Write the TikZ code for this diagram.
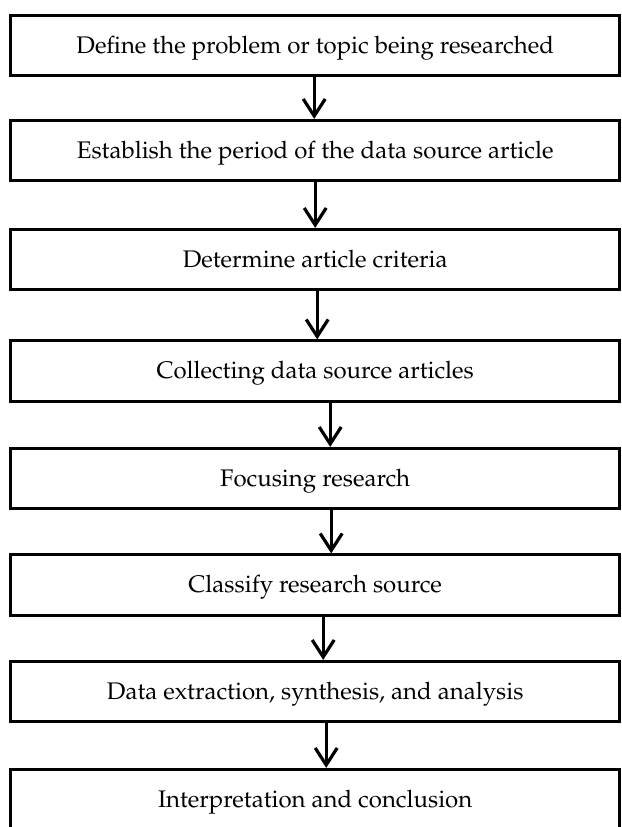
\documentclass[tikz,border=0pt]{standalone}
\usepackage[T1]{fontenc}
\usepackage{mathpazo}
\usetikzlibrary{arrows.meta}
\begin{document}
\begin{tikzpicture}[x=1pt,y=-1pt,
  stepbox/.style={draw, line width=2.8pt, minimum width=609pt, minimum height=60.4pt,
    inner sep=0pt, text height=15pt, text depth=0pt, font=\fontsize{24}{28}\selectfont},
  arr/.style={line width=3.2pt, -{Straight Barb[length=17pt,width=22pt]}}]
\useasboundingbox (0,0) rectangle (621,827);
\fill[white] (0,0) rectangle (621,827);
\clip (0,0) rectangle (621,827);
\node[stepbox] (b1) at (315.2,45.5) {Define the problem or topic being researched};
\node[stepbox] (b2) at (315.2,150.5) {Establish the period of the data source article};
\node[stepbox] (b3) at (315.2,259.5) {Determine article criteria};
\node[stepbox] (b4) at (315.2,371) {Collecting data source articles};
\node[stepbox] (b5) at (315.2,478.5) {Focusing research};
\node[stepbox] (b6) at (315.2,585) {Classify research source};
\node[stepbox] (b7) at (315.2,691.5) {Data extraction, synthesis, and analysis};
\node[stepbox] (b8) at (315.2,799.5) {Interpretation and conclusion};
\draw[arr] ([xshift=-1pt]b1.south) -- ([xshift=-1pt]b2.north);
\draw[arr] ([xshift=0pt]b2.south) -- ([xshift=0pt]b3.north);
\draw[arr] ([xshift=2pt]b3.south) -- ([xshift=2pt]b4.north);
\draw[arr] ([xshift=15pt]b4.south) -- ([xshift=15pt]b5.north);
\draw[arr] ([xshift=16pt]b5.south) -- ([xshift=16pt]b6.north);
\draw[arr] ([xshift=8pt]b6.south) -- ([xshift=8pt]b7.north);
\draw[arr] ([xshift=11pt]b7.south) -- ([xshift=11pt]b8.north);
\end{tikzpicture}
\end{document}
